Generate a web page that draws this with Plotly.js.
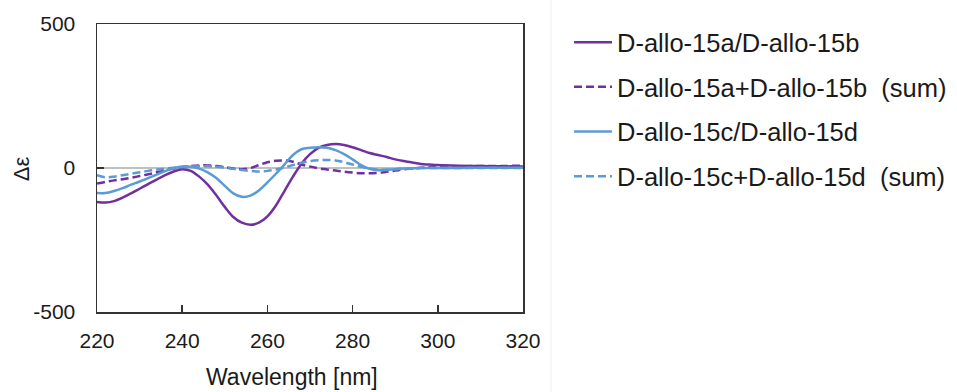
<!DOCTYPE html>
<html>
<head>
<meta charset="utf-8">
<script src="https://cdn.plot.ly/plotly-3.0.1.min.js"></script>
<style>html,body{margin:0;padding:0;background:#fff;}#chart{width:957px;height:392px;}</style>
</head>
<body>
<div id="chart"></div>
<script>
// Wavelength [nm]
const wavelength = [220,222,224,226,228,230,232,234,236,238,240,242,244,246,248,250,252,254,256,258,260,262,264,266,268,270,272,274,276,278,280,282,284,286,288,290,292,294,296,298,300,305,310,315,320];
// D-allo-15a/D-allo-15b
const ab = [-118,-120,-115,-103,-88,-72,-56,-40,-25,-12,-4,-10,-30,-58,-95,-135,-170,-190,-197,-190,-168,-130,-80,-30,15,48,70,80,83,80,72,62,52,45,38,30,24,19,14,12,10,8,7,6,5];
// D-allo-15a+D-allo-15b (sum)
const abSum = [-54,-48,-43,-39,-34,-28,-22,-15,-8,-2,3,7,9,9,7,3,-2,-4,0,10,20,25,26,22,12,5,-1,-5,-9,-13,-16,-18,-18,-17,-13,-9,-5,-2,1,3,5,6,7,7,8];
// D-allo-15c/D-allo-15d
const cd = [-87,-87,-80,-70,-58,-47,-35,-23,-11,-1,5,4,-2,-15,-35,-62,-88,-100,-96,-78,-50,-20,12,45,65,70,72,70,62,48,30,10,-3,-8,-7,-4,-2,-1,0,0,0,0,1,1,1];
// D-allo-15c+D-allo-15d (sum)
const cdSum = [-25,-32,-30,-25,-20,-15,-10,-6,-2,1,3,5,6,6,4,1,-3,-7,-10,-12,-10,-5,2,10,18,24,27,28,26,20,12,4,-2,-5,-6,-4,-2,-1,0,0,0,0,0,0,0];

const names = ["D-allo-15a/D-allo-15b", "D-allo-15a+D-allo-15b\u00a0 (sum)", "D-allo-15c/D-allo-15d", "D-allo-15c+D-allo-15d\u00a0 (sum)"];
const xTicks = [220,240,260,280,300,320];
const yTicks = [-500,0,500];
const yTickText = ["-500","0","500"];

const purple = "#7030A0", blue = "#5B9BD5";
const series = [ab, abSum, cd, cdSum];
const colors = [purple, purple, blue, blue];
const dashes = ["solid", "8px,4px", "solid", "8px,4px"];

const traces = series.map((s, i) => ({
  x: wavelength, y: s, type: "scatter", mode: "lines", name: names[i],
  legendgroup: "g" + i,
  line: {color: colors[i], width: 2.5, dash: dashes[i], shape: "spline", smoothing: 1}
}));

const font = {family: "'Liberation Sans', Arial, sans-serif", color: "#1a1a1a"};
const layout = {
  width: 957, height: 392,
  margin: {l: 97, r: 434, t: 24, b: 80, autoexpand: false},
  paper_bgcolor: "#fff", plot_bgcolor: "#fff",
  font: Object.assign({size: 21}, font),
  showlegend: true,
  legend: {x: 1.108, y: 1.017, xanchor: "left", yanchor: "top", font: Object.assign({size: 25.5}, font),
           tracegroupgap: 8.5, itemwidth: 38, bgcolor: "rgba(0,0,0,0)"},
  xaxis: {range: [220, 320], tickvals: xTicks, ticks: "inside", ticklen: 7, tickwidth: 1.5, tickcolor: "#333",
          showline: true, linecolor: "#333", linewidth: 1.5, mirror: true, showgrid: false, zeroline: false,
          ticklabelstandoff: 9, tickfont: Object.assign({size: 21}, font)},
  yaxis: {range: [-500, 500], tickvals: yTicks, ticktext: yTickText, ticks: "inside", ticklen: 7, tickwidth: 1.5, tickcolor: "#333",
          showline: true, linecolor: "#333", linewidth: 1.5, mirror: true, showgrid: false,
          zeroline: true, zerolinecolor: "#c0c0c0", zerolinewidth: 1.5,
          ticklabelstandoff: 16, tickfont: Object.assign({size: 21}, font)},
  annotations: [
    {text: "Wavelength [nm]", xref: "paper", yref: "paper", x: (291.5 - 97) / 426, y: (311.7 - 377) / 287.7,
     xanchor: "center", yanchor: "middle", showarrow: false, font: Object.assign({size: 23}, font)},
    {text: "Δε", xref: "paper", yref: "paper", x: (21 - 97) / 426, y: (311.7 - 169) / 287.7, textangle: -90,
     xanchor: "center", yanchor: "middle", showarrow: false, font: Object.assign({size: 22}, font)}
  ],
  shapes: [
    {type: "line", xref: "paper", yref: "paper", x0: (551 - 97) / 426, x1: (551 - 97) / 426,
     y0: (311.7 - 392) / 287.7, y1: 311.7 / 287.7, line: {color: "#efefef", width: 1}}
  ]
};

Plotly.newPlot("chart", traces, layout, {displayModeBar: false, staticPlot: true});
</script>
</body>
</html>
